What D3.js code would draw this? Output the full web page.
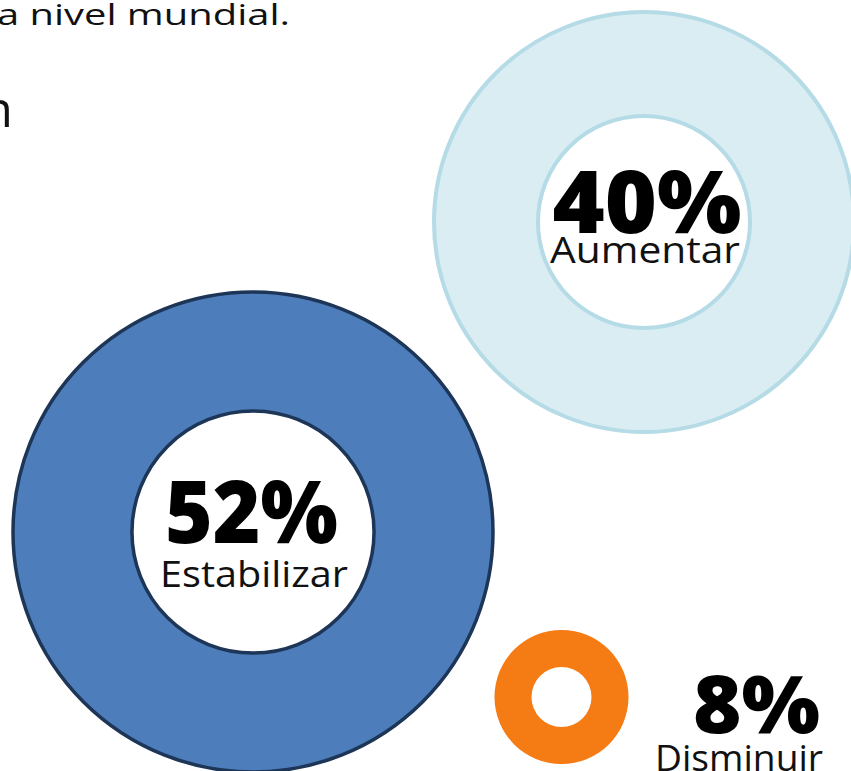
<!DOCTYPE html>
<html><head><meta charset="utf-8">
<script src="https://cdn.jsdelivr.net/npm/d3@7"></script>
<style>html,body{margin:0;padding:0;background:#fff;overflow:hidden}</style>
</head><body>
<svg id="c" width="851" height="771"></svg>
<script>
// data
const categories = ["Aumentar", "Estabilizar", "Disminuir"];
const values = [40, 52, 8];
const valueLabels = values.map(v => v + "%");
const headerText = "a nivel mundial.";
const titleFragment = "n";

// layout / styles (not data)
const layout = [
  {cx: 644, cy: 222, r: 210, ir: 106, fill: "#daedf3", stroke: "#b5dbe6", sw: 4,
   num: {x: 647, y: 233, w: 189, fs: 86}, lab: {x: 645, y: 263, w: 190, fs: 36}},
  {cx: 253, cy: 532, r: 240, ir: 121, fill: "#4d7ebb", stroke: "#1d3557", sw: 3.5,
   num: {x: 251.5, y: 543, w: 173, fs: 87}, lab: {x: 254, y: 587, w: 188, fs: 37}},
  {cx: 561.5, cy: 697, r: 67, ir: 30, fill: "#f57b14", stroke: "none", sw: 0,
   num: {x: 756.5, y: 733, w: 127, fs: 80}, lab: {x: 739, y: 771, w: 168, fs: 37}}
];

const svg = d3.select("#c");
const arc = d3.arc().startAngle(0).endAngle(2 * Math.PI);

const g = svg.selectAll("g.ring").data(categories).join("g").attr("class", "ring");

g.append("path")
  .attr("transform", (d, i) => `translate(${layout[i].cx},${layout[i].cy})`)
  .attr("d", (d, i) => arc({innerRadius: layout[i].ir, outerRadius: layout[i].r}))
  .attr("fill", (d, i) => layout[i].fill)
  .attr("stroke", (d, i) => layout[i].stroke)
  .attr("stroke-width", (d, i) => layout[i].sw);

g.append("text")
  .attr("x", (d, i) => layout[i].num.x)
  .attr("y", (d, i) => layout[i].num.y)
  .attr("text-anchor", "middle")
  .attr("font-family", "'Open Sans', sans-serif")
  .attr("font-weight", 800)
  .attr("font-size", (d, i) => layout[i].num.fs)
  .attr("textLength", (d, i) => layout[i].num.w)
  .attr("lengthAdjust", "spacingAndGlyphs")
  .attr("fill", "#000")
  .text((d, i) => valueLabels[i]);

g.append("text")
  .attr("x", (d, i) => layout[i].lab.x)
  .attr("y", (d, i) => layout[i].lab.y)
  .attr("text-anchor", "middle")
  .attr("font-family", "'Open Sans', sans-serif")
  .attr("font-weight", 400)
  .attr("font-size", (d, i) => layout[i].lab.fs)
  .attr("textLength", (d, i) => layout[i].lab.w)
  .attr("lengthAdjust", "spacingAndGlyphs")
  .attr("fill", "#111")
  .text(d => d);

svg.append("text")
  .attr("x", -3).attr("y", 25)
  .attr("font-family", "'Open Sans', sans-serif")
  .attr("font-size", 30)
  .attr("textLength", 293)
  .attr("lengthAdjust", "spacingAndGlyphs")
  .attr("fill", "#111")
  .text(headerText);

svg.append("text")
  .attr("x", 13).attr("y", 127)
  .attr("text-anchor", "end")
  .attr("font-family", "'Open Sans', sans-serif")
  .attr("font-size", 50)
  .attr("fill", "#111")
  .text(titleFragment);
</script>
</body></html>
